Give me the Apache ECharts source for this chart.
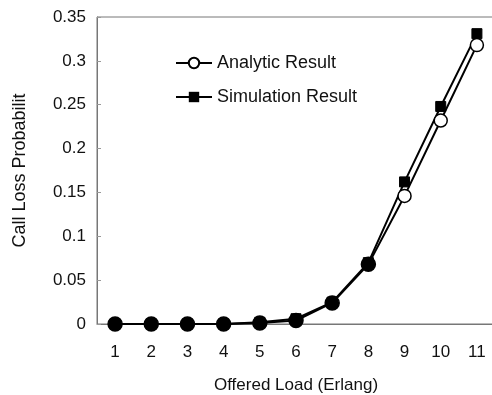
<!DOCTYPE html>
<html>
<head>
<meta charset="utf-8">
<script src="https://cdn.jsdelivr.net/npm/echarts@6/dist/echarts.min.js"></script>
<style>
html,body{margin:0;padding:0;background:#fff;}
#main{width:492px;height:395px;}
</style>
</head>
<body>
<div id="main"></div>
<script>
// data
var loads = ['1','2','3','4','5','6','7','8','9','10','11'];
var analytic = [0, 0, 0, 0, 0.001, 0.004, 0.024, 0.068, 0.146, 0.232, 0.318];
var simulation = [0, 0, 0, 0, 0.002, 0.006, 0.025, 0.070, 0.162, 0.248, 0.331];
var yTicks = [0, 0.05, 0.1, 0.15, 0.2, 0.25, 0.3, 0.35];

var myChart = echarts.init(document.getElementById('main'));

// low points look like solid dots where both markers overlap
var analyticData = analytic.map(function (v, i) {
  return i < 8 ? { value: v, itemStyle: { color: '#000' }, symbolSize: 14 } : v;
});

var font = 'Liberation Sans, Arial, sans-serif';

option = {
  animation: false,
  backgroundColor: '#fff',
  grid: {
    left: 97, top: 17, width: 398, height: 307,
    outerBoundsMode: 'none',
    containLabel: false,
    show: true, borderColor: '#777', borderWidth: 1
  },
  legend: {
    left: 170, top: 49,
    orient: 'vertical',
    itemGap: 16,
    itemWidth: 36, itemHeight: 13,
    textStyle: { fontFamily: font, fontSize: 18, color: '#111' },
    data: ['Analytic Result', 'Simulation Result']
  },
  xAxis: {
    type: 'category',
    data: loads,
    name: 'Offered Load (Erlang)',
    nameLocation: 'middle',
    nameGap: 53,
    nameTextStyle: { fontFamily: font, fontSize: 17, color: '#111' },
    axisLine: { lineStyle: { color: '#777' } },
    axisTick: { inside: true, length: 5, lineStyle: { color: '#777' } },
    axisLabel: { margin: 20, fontFamily: font, fontSize: 17, color: '#111' },
    splitLine: { show: false }
  },
  yAxis: {
    type: 'value',
    min: 0, max: 0.35, interval: 0.05,
    name: 'Call Loss Probabilit',
    nameLocation: 'middle',
    nameGap: 68,
    nameTextStyle: { fontFamily: font, fontSize: 18, color: '#111' },
    axisLine: { show: true, lineStyle: { color: '#777' } },
    axisTick: { show: true, inside: true, length: 4, lineStyle: { color: '#999' } },
    axisLabel: {
      margin: 11, fontFamily: font, fontSize: 17, color: '#111',
      formatter: function (v) {
        var t = yTicks.filter(function (k) { return Math.abs(k - v) < 1e-9; });
        return t.length ? String(t[0]) : '';
      }
    },
    splitLine: { show: false }
  },
  series: [
    {
      name: 'Analytic Result',
      type: 'line',
      data: analyticData,
      symbol: 'circle',
      symbolSize: 13,
      z: 3,
      lineStyle: { color: '#000', width: 2 },
      itemStyle: { color: '#fff', borderColor: '#000', borderWidth: 1.5 }
    },
    {
      name: 'Simulation Result',
      type: 'line',
      data: simulation,
      symbol: 'rect',
      symbolSize: 10,
      z: 2,
      lineStyle: { color: '#000', width: 2 },
      itemStyle: { color: '#000', borderColor: '#000' }
    }
  ]
};

myChart.setOption(option);
</script>
</body>
</html>
